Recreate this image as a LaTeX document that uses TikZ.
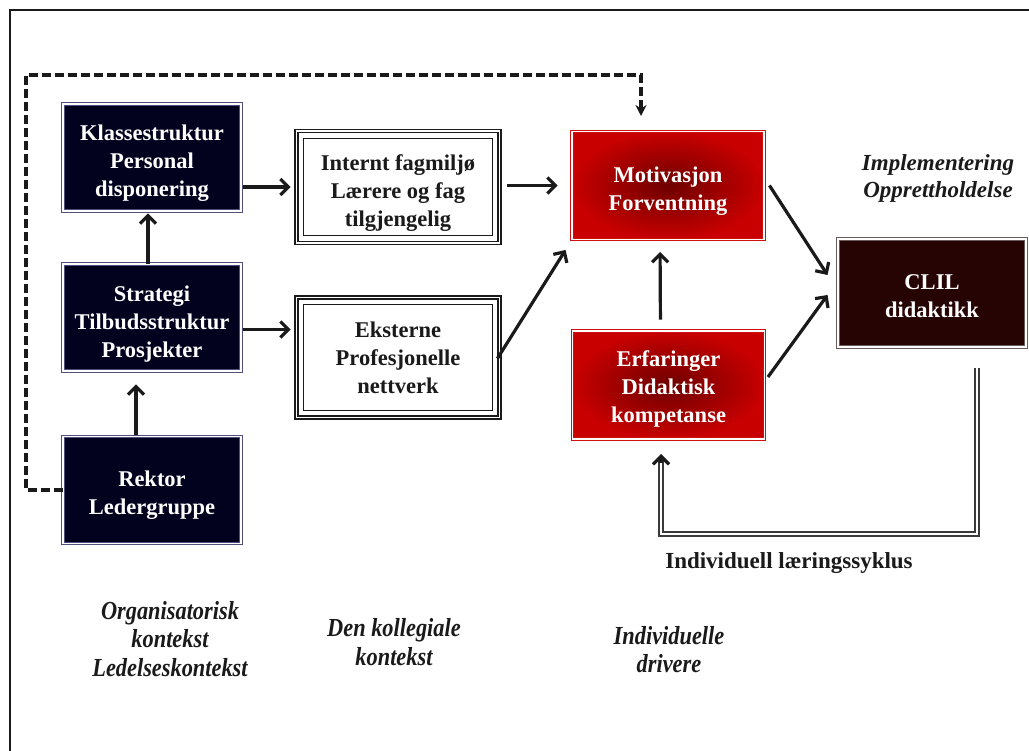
\documentclass[tikz,border=0pt]{standalone}
\usepackage{fontspec}
\setmainfont{Liberation Serif}
\newfontfamily\narrowfont[FakeStretch=0.86]{Liberation Serif}
\usetikzlibrary{arrows.meta,calc}
\definecolor{navyfill}{HTML}{02021E}
\definecolor{navyline}{HTML}{50507A}
\definecolor{redin}{HTML}{6E0000}
\definecolor{redout}{HTML}{C80000}
\definecolor{redline}{HTML}{D01010}
\definecolor{clilfill}{HTML}{260404}
\definecolor{clilline}{HTML}{6A5A5A}
\definecolor{inktext}{HTML}{1A1A1A}
\definecolor{loopgray}{HTML}{3A3A3A}
\newcommand{\tstrut}{\rule{0pt}{26pt}}
\tikzset{
  boxtext/.style={font=\bfseries\fontsize{22.5}{28}\selectfont, align=center, inner sep=0pt},
  navybox/.style={boxtext, text=white, fill=navyfill, draw=navyline, line width=0.9pt,
     double=white, double distance=1.3pt, minimum width=178pt, minimum height=107pt},
  whitebox/.style={boxtext, text=inktext, draw=inktext, line width=1.8pt,
     double=white, double distance=1.2pt, minimum width=203pt},
  redbox/.style={boxtext, text=white, shade, inner color=redin, outer color=redout,
     draw=redline, line width=0.9pt, double=white, double distance=1.3pt,
     minimum width=192pt, minimum height=108pt},
  clilbox/.style={boxtext, text=white, fill=clilfill, draw=clilline, line width=0.9pt,
     double=white, double distance=1.3pt, minimum width=188pt, minimum height=108pt},
  arr/.style={draw=inktext, line width=3.2pt, -{Straight Barb[length=8pt,width=16pt]}},
  dasharr/.style={draw=inktext, line width=3.2pt, dash pattern=on 9pt off 4pt,
     -{Stealth[length=11pt,width=11pt]}},
  loopline/.style={draw=loopgray, line width=2pt, double=white, double distance=1.5pt},
  lbl/.style={font=\bfseries\itshape\fontsize{23}{27.5}\selectfont, align=center, text=inktext, inner sep=0pt},
  narrowlbl/.style={font=\narrowfont\bfseries\itshape\fontsize{26}{28.5}\selectfont, align=center, text=inktext, inner sep=0pt},
  plainlbl/.style={font=\bfseries\fontsize{23}{27}\selectfont, text=inktext, inner sep=0pt}
}
\begin{document}
\begin{tikzpicture}[x=1pt,y=-1pt]
\useasboundingbox (0,0) rectangle (1029,751);
\fill[white] (0,0) rectangle (1029,751);
% outer frame
\draw[line width=2.2pt, inktext] (10,751) -- (10,10) -- (1029,10);

% boxes
\node[navybox] (kl) at (152,157.5) {\tstrut Klassestruktur\\Personal\\disponering};
\node[navybox] (st) at (152,317.5) {\rule{0pt}{28pt}Strategi\\Tilbudsstruktur\\Prosjekter};
\node[navybox] (rk) at (152,490) {\tstrut Rektor\\Ledergruppe};
\node[whitebox, minimum height=112pt] (in) at (398,187) {\rule{0pt}{27pt}Internt fagmilj\o\\L\ae rere og fag\\tilgjengelig};
\node[whitebox, minimum height=120pt] (ek) at (398,357.5) {Eksterne\\Profesjonelle\\nettverk};
\foreach \b in {in,ek}{
  \draw[inktext, line width=1pt] ([shift={(8,8)}]\b.north west) rectangle ([shift={(-8,-8)}]\b.south east);
}
\node[redbox] (mo) at (668,185.5) {\tstrut Motivasjon\\Forventning};
\node[redbox] (er) at (668.5,385) {\rule{0pt}{23pt}Erfaringer\\Didaktisk\\kompetanse};
\node[clilbox] (cl) at (932,293) {\rule{0pt}{22pt}CLIL\\didaktikk};

% solid arrows
\draw[arr, shorten <=2pt, shorten >=5pt] (kl.east |- in.west) -- (in.west);
\draw[arr, shorten <=7pt, shorten >=14pt] (in.east |- mo.west) -- (mo.west);
\draw[arr, shorten <=2pt, shorten >=5pt] ([yshift=-12pt]st.east) -- ([yshift=-12pt]st.east -| ek.west);
\draw[arr] ([xshift=-3pt,yshift=-1pt]ek.east) -- ([xshift=-6pt,yshift=-10pt]mo.south west);
\draw[arr, shorten >=2pt] ([xshift=-4pt]st.north) -- ([xshift=-4pt]kl.south);
\draw[arr, shorten <=1pt, shorten >=13pt] ([xshift=-16pt]rk.north) -- ([xshift=-16pt]rk.north |- st.south);
\draw[arr, shorten <=11pt, shorten >=12pt] ([xshift=-8pt]er.north) -- ([xshift=-8pt]mo.south);
\draw[arr] ([xshift=5pt]mo.east) -- ([xshift=-10pt,yshift=18pt]cl.west);
\draw[arr] ([xshift=3pt,yshift=8pt]er.east) -- ([xshift=-10pt,yshift=-2pt]cl.west);

% dashed feedback
\coordinate (dl) at (26,75);
\coordinate (dtip) at (641,116);
\draw[dasharr] (rk.west) -| (dl) -| (dtip);

% individual learning loop
\coordinate (lp) at (977,368);
\coordinate (lb) at (977,534);
\coordinate (ltip) at (661,454);
\draw[loopline] (lp) -- (lb) -| ([yshift=-5pt]ltip);
\draw[arr] ([yshift=-9pt]ltip) -- (ltip);

% labels
\node[lbl] (impl) at (938,178.5) {Implementering\\Opprettholdelse};
\node[plainlbl] (ils) at (789,563) {Individuell l\ae ringssyklus};
\node[narrowlbl] (org) at (170,639) {Organisatorisk\\kontekst\\Ledelseskontekst};
\node[narrowlbl] (kol) at (394,642) {Den kollegiale\\kontekst};
\node[narrowlbl] (ind) at (669,649.5) {Individuelle\\drivere};
\end{tikzpicture}
\end{document}
